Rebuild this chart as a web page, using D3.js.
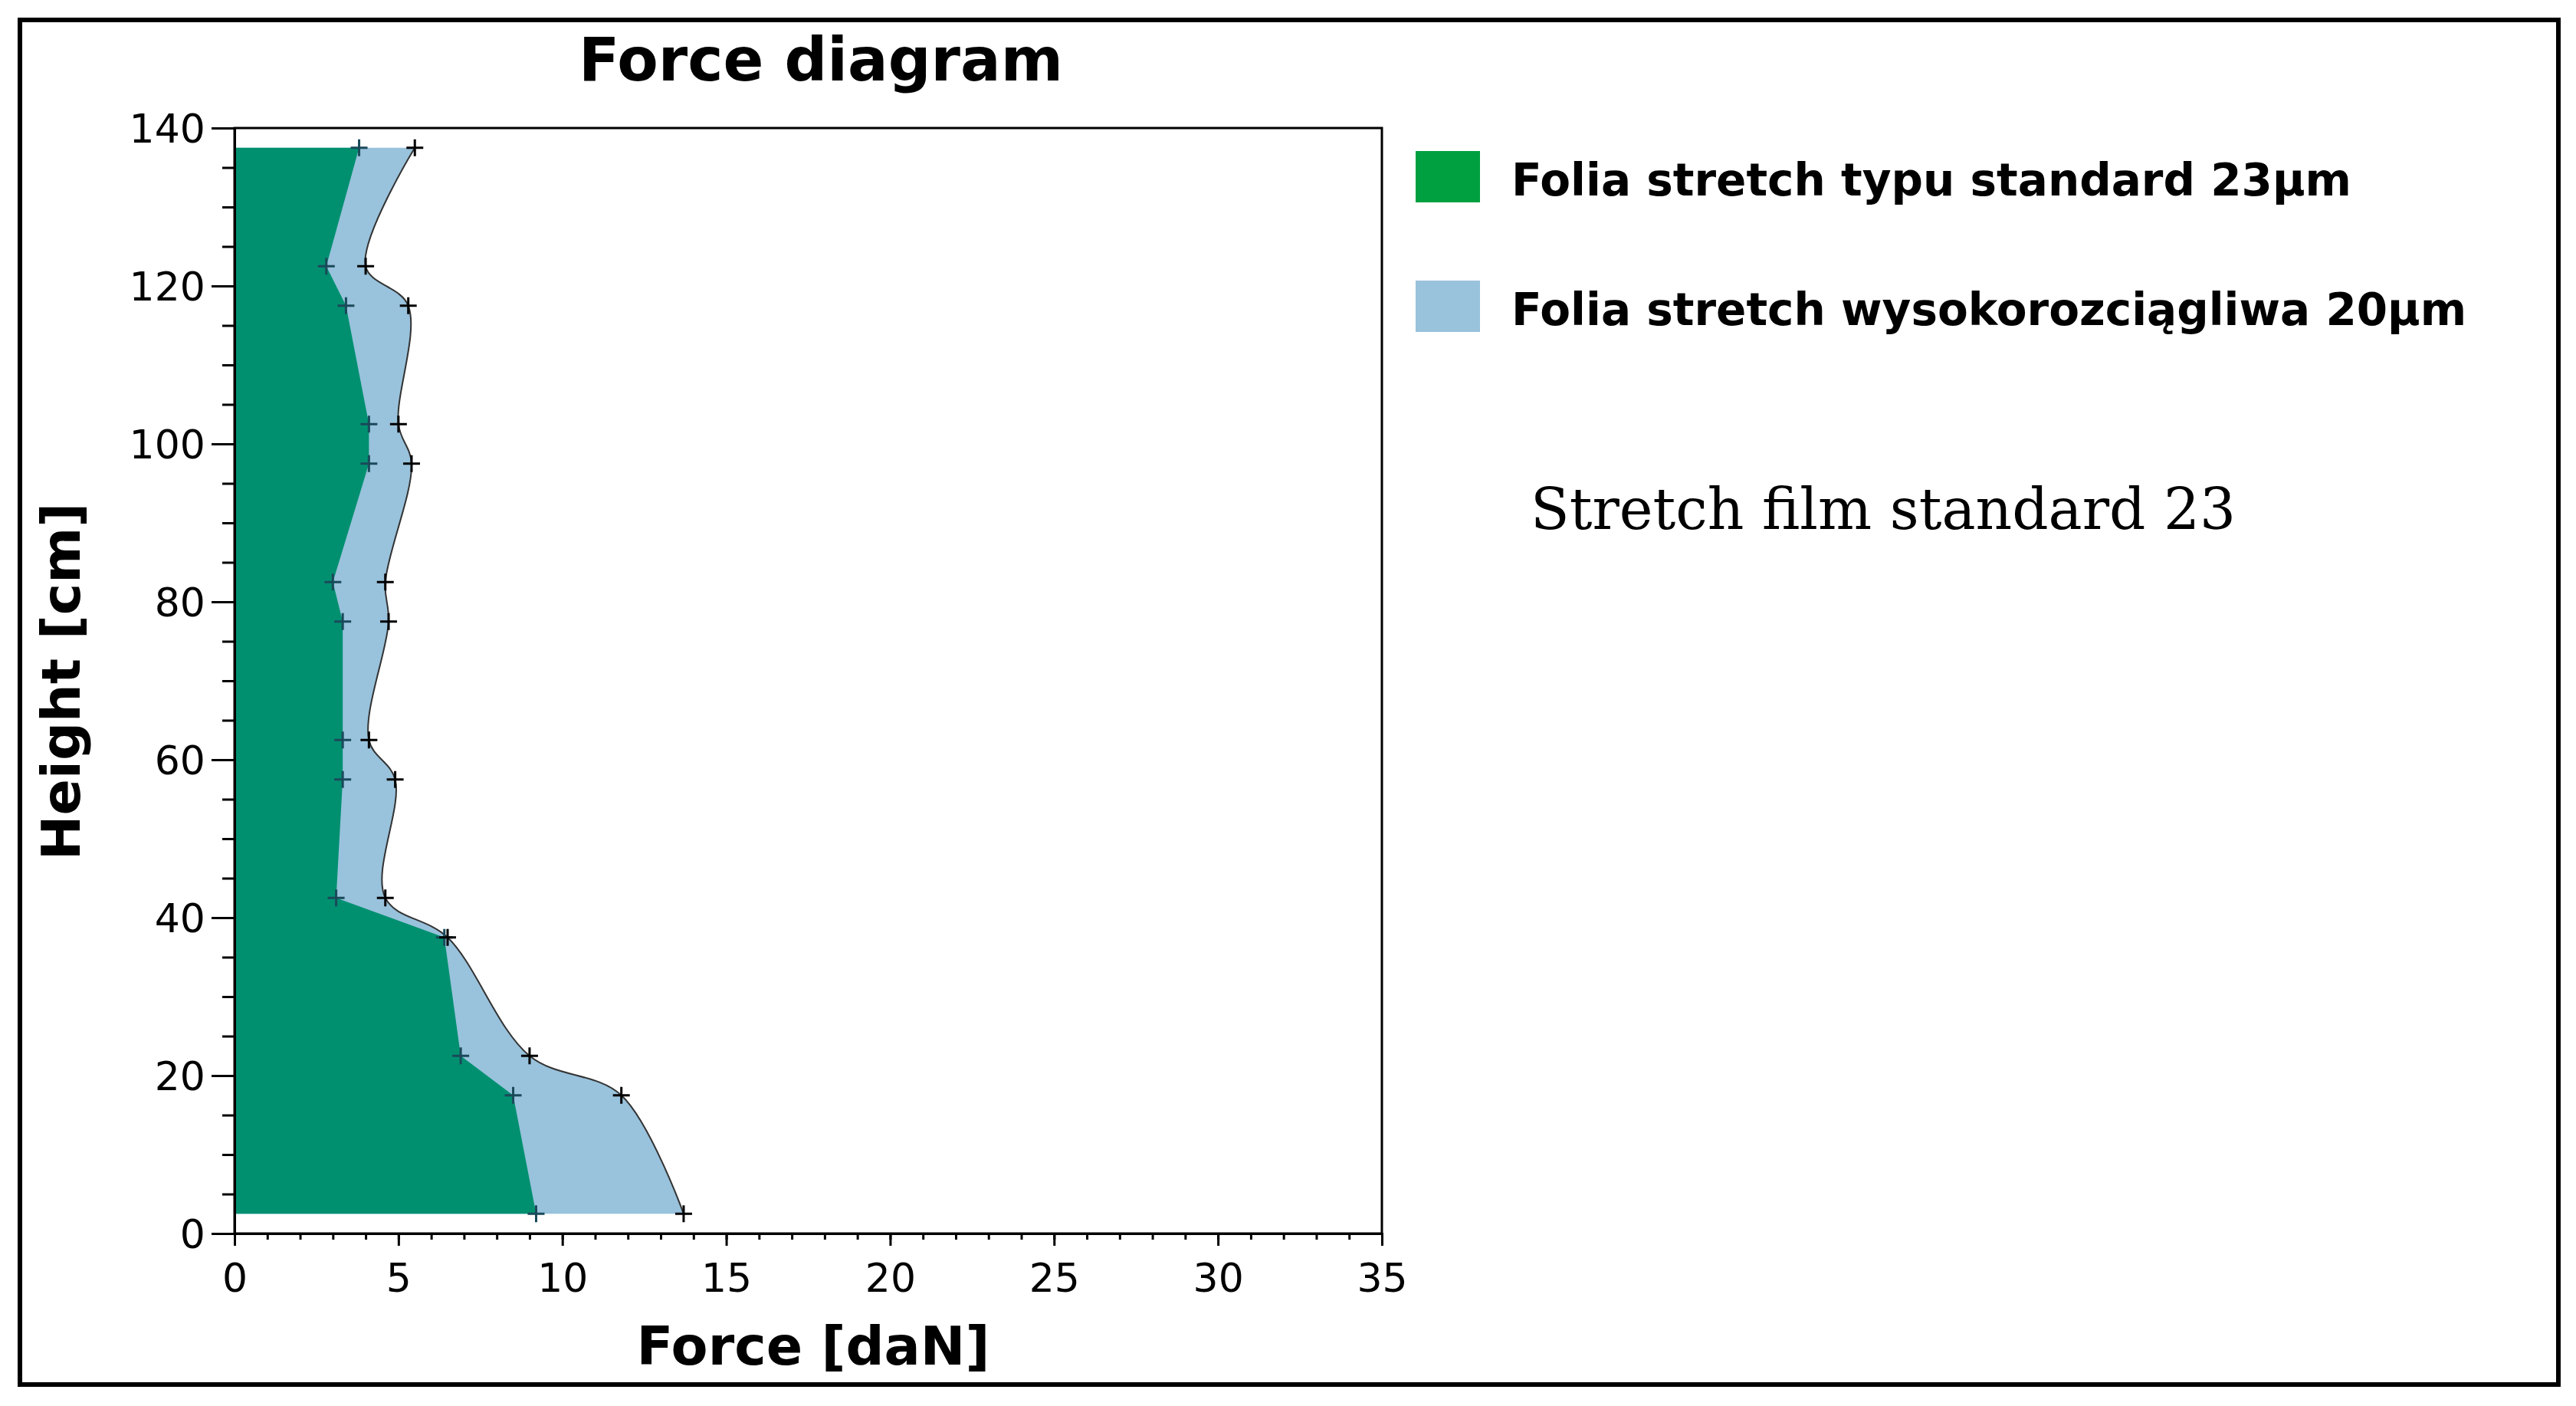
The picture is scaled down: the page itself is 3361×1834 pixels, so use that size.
<!DOCTYPE html>
<html><head><meta charset="utf-8">
<script src="https://cdn.jsdelivr.net/npm/d3@7"></script>
<style>body{margin:0;background:#fff}</style>
</head><body>
<svg width="3361" height="1834"></svg>
<script>
const heights = [137.5, 122.5, 117.5, 102.5, 97.5, 82.5, 77.5, 62.5, 57.5, 42.5, 37.5, 22.5, 17.5, 2.5];
const standard = [3.8, 2.8, 3.4, 4.1, 4.1, 3.0, 3.3, 3.3, 3.3, 3.1, 6.4, 6.9, 8.5, 9.2];
const highStretch = [5.5, 4.0, 5.3, 5.0, 5.4, 4.6, 4.7, 4.1, 4.9, 4.6, 6.5, 9.0, 11.8, 13.7];
const xTicks = [0, 5, 10, 15, 20, 25, 30, 35];
const yTicks = [0, 20, 40, 60, 80, 100, 120, 140];
const legendLabels = ["Folia stretch typu standard 23µm", "Folia stretch wysokorozciągliwa 20µm"];

const svg = d3.select("svg");
const sans = "DejaVu Sans";
const plotLeft = 306, plotRight = 1803, plotTop = 167, plotBottom = 1609;

// outer frame
svg.append("rect").attr("x", 26).attr("y", 26).attr("width", 3312).attr("height", 1780)
  .attr("fill", "none").attr("stroke", "#000").attr("stroke-width", 6);

const x = d3.scaleLinear().domain([0, 35]).range([plotLeft, plotRight]);
const y = d3.scaleLinear().domain([0, 140]).range([plotBottom, plotTop]);

const blueData = heights.map((h, i) => ({h, v: highStretch[i]}));
const greenData = heights.map((h, i) => ({h, v: standard[i]}));

const blueArea = d3.area().y(d => y(d.h)).x0(x(0)).x1(d => x(d.v)).curve(d3.curveCatmullRom);
const greenArea = d3.area().y(d => y(d.h)).x0(x(0)).x1(d => x(d.v));

svg.append("path").datum(blueData).attr("d", blueArea).attr("fill", "#99c2dc");
svg.append("path").datum(blueData)
  .attr("d", d3.line().x(d => x(d.v)).y(d => y(d.h)).curve(d3.curveCatmullRom))
  .attr("fill", "none").attr("stroke", "#333").attr("stroke-width", 2);
svg.append("path").datum(greenData).attr("d", greenArea).attr("fill", "#009070");

// cross markers
function crosses(data, col) {
  svg.selectAll(null).data(data).enter().append("path")
    .attr("d", d => `M${x(d.v) - 11},${y(d.h)}h22M${x(d.v)},${y(d.h) - 11}v22`)
    .attr("stroke", col).attr("stroke-width", 3);
}
crosses(greenData, "#1a4a5a");
crosses(blueData, "#000");

// plot box
svg.append("rect").attr("x", plotLeft).attr("y", plotTop).attr("width", plotRight - plotLeft).attr("height", plotBottom - plotTop)
  .attr("fill", "none").attr("stroke", "#000").attr("stroke-width", 3);

// axes
const xAxis = svg.append("g").attr("transform", `translate(0,${plotBottom})`);
xAxis.call(d3.axisBottom(x).tickValues(d3.range(0, 36, 1)).tickSize(8).tickFormat(""));
xAxis.call(g => g.append("g").call(d3.axisBottom(x).tickValues(xTicks).tickSize(16).tickFormat(d => d)));
const yAxis = svg.append("g").attr("transform", `translate(${plotLeft},0)`);
yAxis.call(d3.axisLeft(y).tickValues(d3.range(0, 141, 5)).tickSize(16).tickFormat(""));
yAxis.call(g => g.append("g").call(d3.axisLeft(y).tickValues(yTicks).tickSize(30).tickFormat(d => d)));
svg.selectAll(".domain").attr("stroke", "#000").attr("stroke-width", 3);
svg.selectAll(".tick line").attr("stroke", "#000").attr("stroke-width", 3);
svg.selectAll(".tick text").attr("font-family", sans).attr("font-size", 52).attr("fill", "#000");
xAxis.selectAll(".tick text").attr("dy", "1.1em");
yAxis.selectAll(".tick text").attr("dy", "0.36em").attr("dx", "-0.1em");

// titles
svg.append("text").attr("x", 1071).attr("y", 105).attr("text-anchor", "middle")
  .attr("font-family", sans).attr("font-weight", "bold").attr("font-size", 78).text("Force diagram");
svg.append("text").attr("x", 1061).attr("y", 1780).attr("text-anchor", "middle")
  .attr("font-family", sans).attr("font-weight", "bold").attr("font-size", 70).text("Force [daN]");
svg.append("text").attr("transform", "translate(104,889) rotate(-90)").attr("text-anchor", "middle")
  .attr("font-family", sans).attr("font-weight", "bold").attr("font-size", 70).text("Height [cm]");

// legend
const legendColors = ["#00a040", "#99c2dc"];
const legendY = [197, 366];
legendLabels.forEach((t, i) => {
  svg.append("rect").attr("x", 1847).attr("y", legendY[i]).attr("width", 84).attr("height", 67).attr("fill", legendColors[i]);
  svg.append("text").attr("x", 1972).attr("y", legendY[i] + 58)
    .attr("font-family", sans).attr("font-weight", "bold").attr("font-size", 58).text(t);
});

svg.append("text").attr("x", 1997).attr("y", 690)
  .attr("font-family", "DejaVu Serif").attr("font-size", 74).text("Stretch film standard 23");
</script>
</body></html>
